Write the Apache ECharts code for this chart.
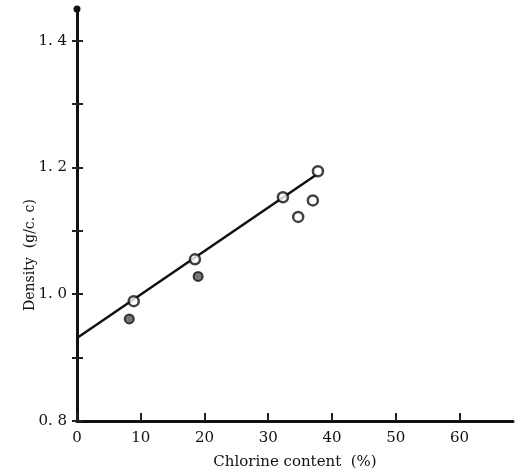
<!DOCTYPE html>
<html>
<head>
<meta charset="utf-8">
<script src="https://cdn.jsdelivr.net/npm/echarts@6/dist/echarts.min.js"></script>
<style>
  html, body { margin: 0; padding: 0; background: #fff; }
  #chart { width: 530px; height: 475px; }
</style>
</head>
<body>
<div id="chart"></div>
<script>
// open circles: [chlorine %, density]
const openPoints = [[8.9, 0.989], [18.5, 1.055], [32.3, 1.153], [34.7, 1.122], [37.0, 1.148], [37.8, 1.194]];
// darker (filled) circles
const darkPoints = [[8.2, 0.961], [19.0, 1.028]];
// fitted straight line, end points
const fitLine = [[0, 0.931], [37.6, 1.189]];
const xTicks = [0, 10, 20, 30, 40, 50, 60];
const yTicks = [0.8, 0.9, 1.0, 1.1, 1.2, 1.3, 1.4];
const yLabels = [0.8, 1.0, 1.2, 1.4];

const chart = echarts.init(document.getElementById('chart'));
const serif = '"DejaVu Serif", "Liberation Serif", serif';

const yBase = {
  type: 'value',
  min: 0.8,
  max: 1.45,
  interval: 0.1,
  splitLine: { show: false }
};

chart.setOption({
  animation: false,
  grid: { left: 77, right: 17, top: 9, bottom: 53 },
  xAxis: {
    type: 'value',
    min: 0,
    max: 68.4,
    interval: 10,
    name: 'Chlorine content  (%)',
    nameLocation: 'middle',
    nameGap: 34,
    nameTextStyle: { fontFamily: serif, fontSize: 15, color: '#111' },
    axisLine: { lineStyle: { color: '#111', width: 3 } },
    axisTick: { inside: true, length: 8, customValues: xTicks, lineStyle: { color: '#222', width: 2 } },
    axisLabel: {
      fontFamily: serif, fontSize: 15, color: '#111', margin: 10,
      customValues: xTicks
    },
    splitLine: { show: false }
  },
  yAxis: [
    Object.assign({}, yBase, {
      name: 'Density  (g/c. c)',
      nameLocation: 'middle',
      nameGap: 40,
      nameMoveOverlap: false,
      nameRotate: 90,
      nameTextStyle: { fontFamily: serif, fontSize: 14, color: '#111', padding: [0, 80, 0, 0] },
      axisLine: {
        lineStyle: { color: '#111', width: 3 },
        symbol: ['none', 'circle'],
        symbolSize: [7, 9]
      },
      axisTick: { length: 5, customValues: yTicks, lineStyle: { color: '#222', width: 2 } },
      axisLabel: {
        fontFamily: serif, fontSize: 15, color: '#111', margin: 10,
        customValues: yLabels,
        formatter: v => v.toFixed(1).replace('.', '. ')
      }
    }),
    Object.assign({}, yBase, {
      position: 'left',
      axisLine: { show: false },
      axisTick: { inside: true, length: 6, customValues: yTicks, lineStyle: { color: '#222', width: 2 } },
      axisLabel: { show: false }
    })
  ],
  series: [
    {
      type: 'line',
      data: fitLine,
      symbol: 'none',
      lineStyle: { color: '#111', width: 2.5 },
      z: 2
    },
    {
      type: 'scatter',
      data: openPoints,
      symbol: 'circle',
      symbolSize: 10,
      itemStyle: { color: '#fff', borderColor: '#111', borderWidth: 2.5 },
      z: 3
    },
    {
      type: 'scatter',
      data: darkPoints,
      symbol: 'circle',
      symbolSize: 9,
      itemStyle: { color: '#555', borderColor: '#111', borderWidth: 2 },
      z: 3
    }
  ]
});
</script>
</body>
</html>
